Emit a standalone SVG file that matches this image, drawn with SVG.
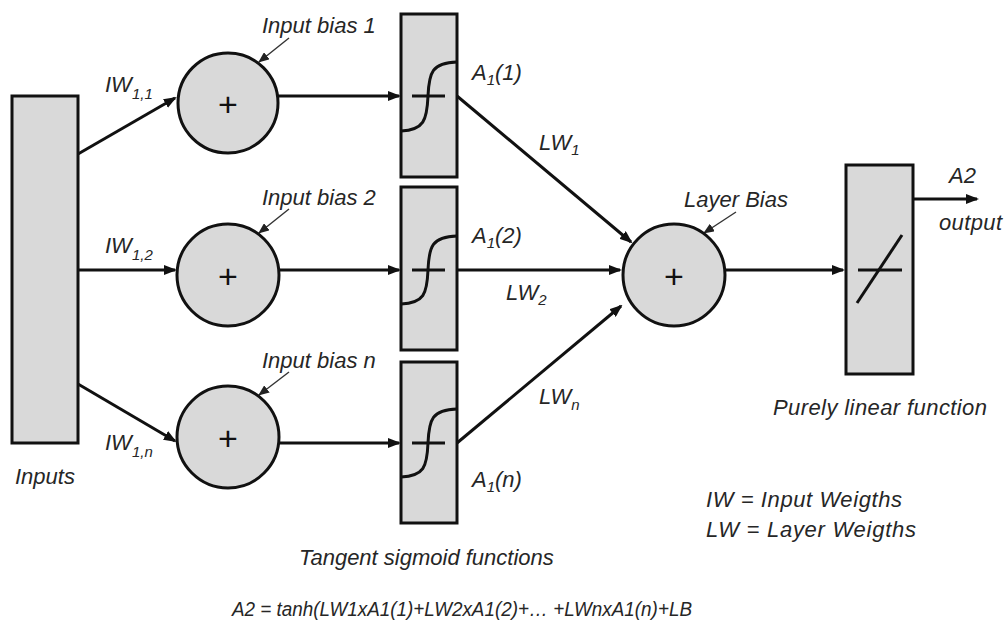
<svg xmlns="http://www.w3.org/2000/svg" width="1008" height="628" viewBox="0 0 1008 628">
<style>
.box{fill:#d9d9d9;stroke:#111;stroke-width:3}
.ln{fill:none;stroke:#111;stroke-width:3}
.thin{fill:none;stroke:#333;stroke-width:1.4}
.t{font-family:'Liberation Sans',Arial,sans-serif;font-style:italic;font-size:22px;fill:#262626}
.sub{font-size:15px}
.plus{font-family:'Liberation Sans',Arial,sans-serif;font-size:34px;fill:#111;text-anchor:middle}
</style>
<defs>
<marker id="ah" markerUnits="userSpaceOnUse" markerWidth="13" markerHeight="10" viewBox="0 0 13 10" refX="11" refY="5" orient="auto">
<path d="M0,0 L13,5 L0,10 z" fill="#111"/>
</marker>
<marker id="ahs" markerUnits="userSpaceOnUse" markerWidth="11" markerHeight="9" viewBox="0 0 11 9" refX="10" refY="4.5" orient="auto">
<path d="M0,0 L11,4.5 L0,9 z" fill="#222"/>
</marker>
</defs>
<rect width="1008" height="628" fill="#fff"/>

<g id="connectors">
<path class="ln" d="M78,154 L175,98" marker-end="url(#ah)"/>
<path class="ln" d="M78,270 L175,270" marker-end="url(#ah)"/>
<path class="ln" d="M78,384 L175,441" marker-end="url(#ah)"/>
<path class="ln" d="M278,96 L399,96" marker-end="url(#ah)"/>
<path class="ln" d="M279,270 L399,270" marker-end="url(#ah)"/>
<path class="ln" d="M278,443 L399,443" marker-end="url(#ah)"/>
<path class="ln" d="M457,96 L631,242" marker-end="url(#ah)"/>
<path class="ln" d="M457,270 L620,270" marker-end="url(#ah)"/>
<path class="ln" d="M457,443 L621,306" marker-end="url(#ah)"/>
<path class="ln" d="M725,270 L843,270" marker-end="url(#ah)"/>
<path class="ln" d="M913,199 L977,199" marker-end="url(#ah)"/>
<path class="thin" d="M289,38 L259,62" marker-end="url(#ahs)"/>
<path class="thin" d="M289,209 L259,233" marker-end="url(#ahs)"/>
<path class="thin" d="M289,372 L259,395" marker-end="url(#ahs)"/>
<path class="thin" d="M736,212 L704,233" marker-end="url(#ahs)"/>
</g>

<g id="inputs">
<rect class="box" x="12" y="96" width="66" height="347"/>
<text class="t" x="15" y="484">Inputs</text>
</g>

<g id="sum1">
<circle class="box" cx="228" cy="103" r="50"/>
<text class="plus" x="228" y="116">+</text>
</g>
<g id="sum2">
<circle class="box" cx="228" cy="275" r="51"/>
<text class="plus" x="228" y="288">+</text>
</g>
<g id="sum3">
<circle class="box" cx="228" cy="437" r="51"/>
<text class="plus" x="228" y="450">+</text>
</g>

<g id="sig1">
<rect class="box" x="401" y="14" width="56" height="163"/>
<path class="ln" d="M412,96 L445,96"/>
<path class="ln" d="M401,131 C424,130 427,120 428,96 C429,72 432,63 457,62"/>
</g>
<g id="sig2">
<rect class="box" x="401" y="187" width="56" height="163"/>
<path class="ln" d="M412,270 L445,270"/>
<path class="ln" d="M401,304 C424,303 427,294 428,270 C429,246 432,237 457,236"/>
</g>
<g id="sig3">
<rect class="box" x="401" y="362" width="56" height="161"/>
<path class="ln" d="M412,443 L445,443"/>
<path class="ln" d="M401,477 C424,476 427,467 428,443 C429,419 432,410 457,409"/>
</g>

<g id="layersum">
<circle class="box" cx="674" cy="275" r="51"/>
<text class="plus" x="674" y="288">+</text>
</g>

<g id="linear">
<rect class="box" x="846" y="165" width="67" height="209"/>
<path class="ln" d="M858,270 L902,270"/>
<path class="ln" d="M857,303 L902,235"/>
</g>

<g id="labels">
<text class="t" x="262" y="33">Input bias 1</text>
<text class="t" x="262" y="205">Input bias 2</text>
<text class="t" x="262" y="368">Input bias n</text>
<text class="t" x="684" y="207">Layer Bias</text>
<text class="t" x="105" y="92">IW<tspan class="sub" dy="7">1,1</tspan></text>
<text class="t" x="105" y="253">IW<tspan class="sub" dy="7">1,2</tspan></text>
<text class="t" x="105" y="450">IW<tspan class="sub" dy="7">1,n</tspan></text>
<text class="t" x="472" y="80">A<tspan class="sub" dy="5">1</tspan><tspan dy="-5">(1)</tspan></text>
<text class="t" x="472" y="243">A<tspan class="sub" dy="5">1</tspan><tspan dy="-5">(2)</tspan></text>
<text class="t" x="472" y="487">A<tspan class="sub" dy="5">1</tspan><tspan dy="-5">(n)</tspan></text>
<text class="t" x="539" y="150">LW<tspan class="sub" dy="5">1</tspan></text>
<text class="t" x="506" y="300">LW<tspan class="sub" dy="5">2</tspan></text>
<text class="t" x="539" y="404">LW<tspan class="sub" dy="6">n</tspan></text>
<text class="t" x="949" y="183">A2</text>
<text class="t" x="939" y="230" textLength="63">output</text>
<text class="t" x="773" y="415" textLength="214">Purely linear function</text>
<text class="t" x="706" y="507" textLength="196">IW = Input Weigths</text>
<text class="t" x="706" y="537" textLength="210">LW = Layer Weigths</text>
<text class="t" x="299" y="565">Tangent sigmoid functions</text>
<text class="t" x="232" y="616" style="font-size:20px" textLength="460" lengthAdjust="spacingAndGlyphs">A2 = tanh(LW1xA1(1)+LW2xA1(2)+… +LWnxA1(n)+LB</text>
</g>
</svg>
